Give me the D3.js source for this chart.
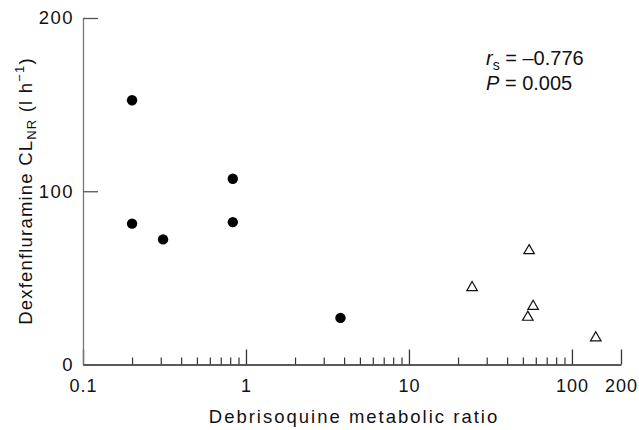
<!DOCTYPE html>
<html>
<head>
<meta charset="utf-8">
<script src="https://cdn.jsdelivr.net/npm/d3@7"></script>
<style>
  body { margin: 0; background: #fff; }
  text { font-family: "Liberation Sans", Arial, sans-serif; fill: #111; }
</style>
</head>
<body>
<div id="chart"></div>
<script>
// extensive metabolisers (filled circles)
var emRatio = [0.2, 0.2, 0.31, 0.83, 0.83, 3.8];
var emClearance = [152.5, 81.3, 72.2, 107.2, 82.2, 26.9];
// poor metabolisers (open triangles)
var pmRatio = [24.4, 54.6, 57.8, 53.6, 140];
var pmClearance = [44.4, 65.7, 33.6, 27.3, 15.4];

var xMajor = [0.1, 1, 10, 100, 200];
var xMinor = [0.2, 0.3, 0.4, 0.5, 0.6, 0.7, 0.8, 0.9,
              2, 3, 4, 5, 6, 7, 8, 9,
              20, 30, 40, 50, 60, 70, 80, 90];
var yTicks = [0, 100, 200];

var W = 639, H = 430;
var m = { left: 83, top: 18, right: 18, bottom: 65 };

var svg = d3.select("#chart").append("svg")
    .attr("width", W)
    .attr("height", H);

var xScale = d3.scaleLog()
    .domain([0.1, 200])
    .range([m.left, 621]);

var yScale = d3.scaleLinear()
    .domain([0, 200])
    .range([364.5, m.top]);

//X AXIS - major ticks with labels
var xAxis = d3.axisBottom(xScale)
    .tickValues(xMajor)
    .tickFormat(function (d) { return d; })
    .tickSizeInner(-15)
    .tickSizeOuter(0)
    .tickPadding(15);

var gx = svg.append("g")
    .attr("transform", "translate(0," + yScale(0) + ")")
    .call(xAxis);
gx.select(".domain").attr("stroke", "#222").attr("stroke-width", 1.3);
gx.selectAll(".tick line").attr("stroke", "#333").attr("stroke-width", 1.3);
gx.selectAll(".tick text")
    .style("font-size", "18px")
    .style("letter-spacing", "1px")
    .attr("fill", "#111");

//X AXIS - minor ticks
var xAxisMinor = d3.axisBottom(xScale)
    .tickValues(xMinor)
    .tickFormat("")
    .tickSizeInner(-7)
    .tickSizeOuter(0);

var gxm = svg.append("g")
    .attr("transform", "translate(0," + yScale(0) + ")")
    .call(xAxisMinor);
gxm.select(".domain").remove();
gxm.selectAll(".tick line").attr("stroke", "#333").attr("stroke-width", 1.2);

//Y AXIS
var yAxis = d3.axisLeft(yScale)
    .tickValues(yTicks)
    .tickSizeInner(-15)
    .tickSizeOuter(0)
    .tickPadding(9);

var gy = svg.append("g")
    .attr("transform", "translate(" + xScale(0.1) + ",0)")
    .call(yAxis);
gy.select(".domain").attr("stroke", "#777").attr("stroke-width", 1.3);
gy.selectAll(".tick line").attr("stroke", "#555").attr("stroke-width", 1.3);
gy.selectAll(".tick text")
    .style("font-size", "18.5px")
    .style("letter-spacing", "1.5px")
    .attr("fill", "#111");

//AXIS TITLES
svg.append("text")
    .attr("x", 354)
    .attr("y", 423)
    .attr("text-anchor", "middle")
    .style("font-size", "18.5px")
    .style("letter-spacing", "2px")
    .text("Debrisoquine metabolic ratio");

var yt = svg.append("text")
    .attr("transform", "translate(32,191) rotate(-90)")
    .attr("text-anchor", "middle")
    .style("font-size", "18.5px")
    .style("letter-spacing", "1.2px");
yt.append("tspan").text("Dexfenfluramine CL");
yt.append("tspan").attr("dy", 4).style("font-size", "13px").text("NR");
yt.append("tspan").attr("dy", -4).text(" (l h");
yt.append("tspan").attr("dy", -8).style("font-size", "13px").text("\u22121");
yt.append("tspan").attr("dy", 8).text(")");

//ANNOTATION
var a1 = svg.append("text")
    .attr("x", 486)
    .attr("y", 65)
    .style("font-size", "20px");
a1.append("tspan").style("font-style", "italic").text("r");
a1.append("tspan").attr("dy", 5).style("font-size", "14px").text("s");
a1.append("tspan").attr("dy", -5).text(" = \u20130.776");

var a2 = svg.append("text")
    .attr("x", 486)
    .attr("y", 90)
    .style("font-size", "20px");
a2.append("tspan").style("font-style", "italic").text("P");
a2.append("tspan").text(" = 0.005");

//POINTS
var em = emRatio.map(function (d, i) { return [d, emClearance[i]]; });
var pm = pmRatio.map(function (d, i) { return [d, pmClearance[i]]; });

svg.selectAll("circle.em")
    .data(em)
    .enter().append("circle")
    .attr("class", "em")
    .attr("cx", function (d) { return xScale(d[0]); })
    .attr("cy", function (d) { return yScale(d[1]); })
    .attr("r", 5.2)
    .attr("fill", "#000");

var tri = d3.symbol().type(d3.symbolTriangle).size(48);
svg.selectAll("path.pm")
    .data(pm)
    .enter().append("path")
    .attr("class", "pm")
    .attr("d", tri)
    .attr("transform", function (d) {
        return "translate(" + xScale(d[0]) + "," + yScale(d[1]) + ")";
    })
    .attr("fill", "none")
    .attr("stroke", "#111")
    .attr("stroke-width", 1.2);
</script>
</body>
</html>
